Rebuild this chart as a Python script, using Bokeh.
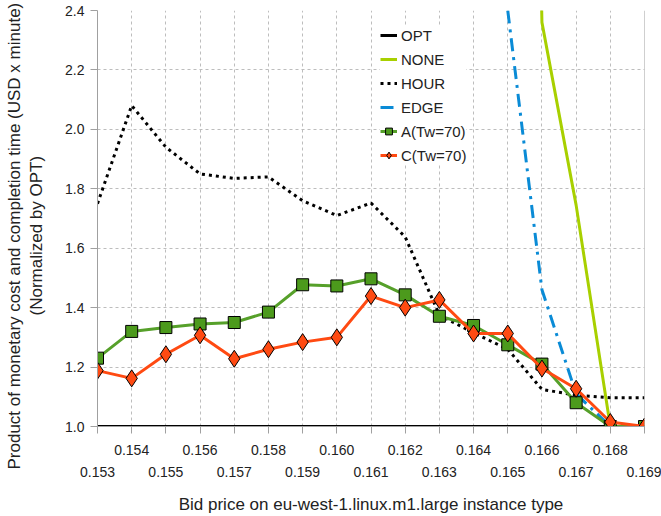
from bokeh.plotting import figure
from bokeh.embed import file_html
from bokeh.resources import INLINE
from bokeh.models import (FixedTicker, CustomJSTickFormatter, PrintfTickFormatter,
                          LinearAxis, Span, Title, Range1d)

# ---- data ----
bid = [0.153, 0.154, 0.155, 0.156, 0.157, 0.158, 0.159, 0.160, 0.161,
       0.162, 0.163, 0.164, 0.165, 0.166, 0.167, 0.168, 0.169]
opt = [1.0] * 17
hour = [1.75, 2.08, 1.94, 1.85, 1.835, 1.84, 1.76, 1.71, 1.752,
        1.638, 1.375, 1.315, 1.26, 1.125, 1.105, 1.097, 1.097]
a_tw70 = [1.23, 1.32, 1.333, 1.345, 1.35, 1.385, 1.477, 1.473, 1.497,
          1.443, 1.371, 1.34, 1.275, 1.21, 1.08, 1.0, 1.0]
c_tw70 = [1.188, 1.162, 1.243, 1.307, 1.228, 1.26, 1.284, 1.30, 1.439,
          1.40, 1.426, 1.313, 1.313, 1.195, 1.127, 1.015, 1.0]
none_bid = [0.165, 0.166, 0.167, 0.168, 0.169]
none_vals = [8.0, 2.36, 1.745, 1.0, 1.0]
edge_bid = [0.165, 0.166, 0.167, 0.168, 0.169]
edge_vals = [2.40, 1.46, 1.11, 1.0, 1.0]
y_ticks = [1.0, 1.2, 1.4, 1.6, 1.8, 2.0, 2.2, 2.4]

x_label = "Bid price on eu-west-1.linux.m1.large instance type"
y_label_1 = "Product of monetary cost and completion time (USD x minute)"
y_label_2 = "(Normalized by OPT)"

FONT = "Liberation Sans"
TXT = "#222222"
GRID = "#bdbdbd"
AXC = "#a0a0a0"

p = figure(width=661, height=516, output_backend="svg", toolbar_location=None,
           x_range=Range1d(0.153, 0.169), y_range=Range1d(1.0, 2.4),
           min_border_left=97, min_border_right=17, min_border_top=10,
           min_border_bottom=90)
p.outline_line_color = None
p.background_fill_color = "white"

# grids
p.xgrid.ticker = FixedTicker(ticks=bid)
p.ygrid.ticker = FixedTicker(ticks=y_ticks)
for g in (p.xgrid, p.ygrid):
    g.grid_line_color = GRID
    g.grid_line_dash = "3 3"
    g.grid_line_width = 1

# x axis (upper row of labels + all tick marks)
xa = p.xaxis[0]
xa.ticker = FixedTicker(ticks=bid)
xa.formatter = CustomJSTickFormatter(code="return (index % 2 == 1) ? tick.toFixed(3) : '';")
xa.axis_line_color = AXC
xa.major_tick_line_color = AXC
xa.major_tick_out = 7
xa.major_tick_in = 0
xa.minor_tick_line_color = None
xa.major_label_standoff = 11
xa.major_label_text_font = FONT
xa.major_label_text_font_size = "14px"
xa.major_label_text_color = TXT

# lower row of x labels
xa2 = LinearAxis(ticker=FixedTicker(ticks=bid[0::2]),
                 formatter=PrintfTickFormatter(format="%.3f"))
xa2.axis_line_color = None
xa2.major_tick_line_color = None
xa2.minor_tick_line_color = None
xa2.major_tick_out = 0
xa2.major_tick_in = 0
xa2.major_label_standoff = 9
xa2.major_label_text_font = FONT
xa2.major_label_text_font_size = "14px"
xa2.major_label_text_color = TXT
xa2.axis_label = x_label
xa2.axis_label_text_font = FONT
xa2.axis_label_text_font_size = "17px"
xa2.axis_label_text_font_style = "normal"
xa2.axis_label_text_color = TXT
xa2.axis_label_standoff = 15
p.add_layout(xa2, "below")

# y axis
ya = p.yaxis[0]
ya.ticker = FixedTicker(ticks=y_ticks)
ya.formatter = PrintfTickFormatter(format="%.1f")
ya.axis_line_color = AXC
ya.major_tick_line_color = AXC
ya.major_tick_out = 7
ya.major_tick_in = 0
ya.minor_tick_line_color = None
ya.major_label_standoff = 6
ya.major_label_text_font = FONT
ya.major_label_text_font_size = "14px"
ya.major_label_text_color = TXT

# y axis title: spacer + two lines (left panel stack, inner to outer)
spacer = Title(text=" ", text_font_size="1px", standoff=14)
p.add_layout(spacer, "left")
t2 = Title(text=y_label_2, align="left", offset=111, standoff=0,
           text_font=FONT, text_font_size="17px", text_font_style="normal",
           text_color=TXT)
p.add_layout(t2, "left")
t1 = Title(text=y_label_1, align="left", offset=-43, standoff=2,
           text_font=FONT, text_font_size="17px", text_font_style="normal",
           text_color=TXT)
p.add_layout(t1, "left")

# right border
p.add_layout(Span(location=0.169, dimension="height", line_color=AXC, line_width=1))

# series
p.line(bid, opt, line_color="black", line_width=3, legend_label="OPT")
p.line(none_bid, none_vals, line_color="#a8d000", line_width=3, legend_label="NONE")
p.line(bid, hour, line_color="black", line_width=3, line_dash="3 4", legend_label="HOUR")
p.line(edge_bid, edge_vals, line_color="#0a8bd6", line_width=3, line_dash="13 6 3 6",
       legend_label="EDGE")
p.line(bid, a_tw70, line_color="#56a02a", line_width=3, legend_label="A(Tw=70)")
p.scatter(bid, a_tw70, marker="square", size=12, fill_color="#4c9a1c",
          line_color="black", line_width=1, legend_label="A(Tw=70)")
p.line(bid, c_tw70, line_color="#ff4a12", line_width=3, legend_label="C(Tw=70)")
p.scatter(bid, c_tw70, marker="diamond", size=17, fill_color="#ff4a12",
          line_color="black", line_width=1, legend_label="C(Tw=70)")

lg = p.legend[0]
lg.location = (283, 261)
lg.padding = 0
lg.margin = 0
lg.spacing = 4
lg.glyph_width = 17
lg.glyph_height = 20
lg.label_height = 20
lg.label_standoff = 4
lg.label_text_font = FONT
lg.label_text_font_size = "15px"
lg.label_text_color = TXT
lg.border_line_color = None
lg.background_fill_alpha = 1.0

open("out.html", "w").write(file_html(p, INLINE))
